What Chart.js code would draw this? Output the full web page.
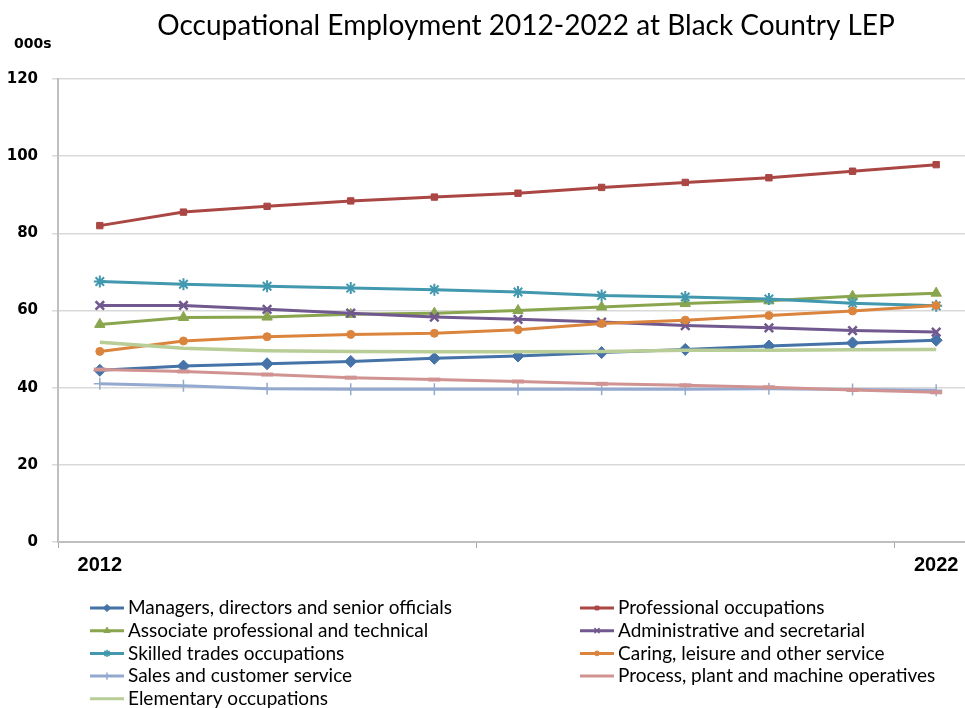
<!DOCTYPE html>
<html>
<head>
<meta charset="utf-8">
<script src="https://cdn.jsdelivr.net/npm/chart.js@4/dist/chart.umd.min.js"></script>
<style>
  html, body { margin: 0; padding: 0; background: #fff; overflow: hidden; }
  #wrap { width: 1058px; height: 708px; }
</style>
</head>
<body>
<div id="wrap"><canvas id="myChart" width="1058" height="708"></canvas></div>
<script>
// values in thousands
const years = ['2012', '2013', '2014', '2015', '2016', '2017', '2018', '2019', '2020', '2021', '2022'];
const shownYears = ['2012', '2022'];
const yTicks = [0, 20, 40, 60, 80, 100, 120];

const managers = [44.5, 45.6, 46.2, 46.8, 47.6, 48.2, 49.1, 49.9, 50.8, 51.6, 52.3];
const professional = [82.0, 85.5, 87.0, 88.4, 89.4, 90.4, 91.9, 93.2, 94.4, 96.1, 97.8];
const associate = [56.4, 58.2, 58.3, 59.0, 59.3, 60.0, 60.9, 61.8, 62.5, 63.7, 64.5];
const administrative = [61.3, 61.3, 60.3, 59.3, 58.3, 57.7, 57.0, 56.1, 55.5, 54.8, 54.4];
const skilled = [67.5, 66.8, 66.3, 65.8, 65.4, 64.8, 63.9, 63.5, 63.0, 61.9, 61.2];
const caring = [49.4, 52.1, 53.2, 53.8, 54.1, 55.0, 56.6, 57.5, 58.7, 59.9, 61.3];
const sales = [41.0, 40.5, 39.7, 39.6, 39.6, 39.6, 39.6, 39.6, 39.7, 39.5, 39.3];
const process = [44.7, 44.2, 43.4, 42.6, 42.1, 41.6, 41.0, 40.6, 40.1, 39.4, 38.8];
const elementary = [51.8, 50.2, 49.6, 49.4, 49.3, 49.3, 49.4, 49.7, 49.7, 49.8, 49.9];

const series = [
  { label: 'Managers, directors and senior officials', data: managers, color: '#4572A7', style: 'rectRot', r: 6, bw: 1 },
  { label: 'Professional occupations', data: professional, color: '#AA4643', style: 'rect', r: 4.5, bw: 1 },
  { label: 'Associate professional and technical', data: associate, color: '#89A54E', style: 'triangle', r: 6, bw: 1 },
  { label: 'Administrative and secretarial', data: administrative, color: '#71588F', style: 'crossRot', r: 6, bw: 2.5 },
  { label: 'Skilled trades occupations', data: skilled, color: '#4198AF', style: 'star', r: 6, bw: 2 },
  { label: 'Caring, leisure and other service', data: caring, color: '#DB843D', style: 'circle', r: 4, bw: 1 },
  { label: 'Sales and customer service', data: sales, color: '#93A9CF', style: 'cross', r: 6, bw: 1.5 },
  { label: 'Process, plant and machine operatives', data: process, color: '#D19392', style: 'line', r: 6, bw: 4 },
  { label: 'Elementary occupations', data: elementary, color: '#B9CD96', style: false, r: 0, bw: 0 }
];

const chartTitle = 'Occupational Employment 2012-2022 at Black Country LEP';

// title, the "000s" unit label and a two column legend like the excel one
const extras = {
  id: 'extras',
  afterDraw(chart) {
    const ctx = chart.ctx;
    ctx.save();
    ctx.fillStyle = '#000';
    ctx.font = '28px Lato';
    ctx.textAlign = 'center';
    ctx.textBaseline = 'alphabetic';
    ctx.fillText(chartTitle, 526, 35);

    ctx.font = 'bold 14px "DejaVu Sans"';
    ctx.textAlign = 'left';
    ctx.textBaseline = 'middle';
    ctx.fillText('000s', 14, 44);

    ctx.font = '19px Lato';
    chart.data.datasets.forEach((ds, i) => {
      const col = i % 2, row = Math.floor(i / 2);
      const x0 = col ? 580 : 90;
      const y = 608 + row * 22.7;
      ctx.strokeStyle = ds.borderColor;
      ctx.lineWidth = 3;
      ctx.beginPath();
      ctx.moveTo(x0, y);
      ctx.lineTo(x0 + 34, y);
      ctx.stroke();
      if (ds.pointStyle && Chart.helpers && Chart.helpers.drawPoint) {
        ctx.fillStyle = ds.borderColor;
        ctx.strokeStyle = ds.borderColor;
        ctx.lineWidth = Math.min(ds.pointBorderWidth, 1.5);
        Chart.helpers.drawPoint(ctx, { pointStyle: ds.pointStyle, radius: ds.pointRadius * 0.6, rotation: 0, borderWidth: ds.pointBorderWidth }, x0 + 17, y);
      }
      ctx.fillStyle = '#000';
      ctx.fillText(ds.label, x0 + 38, y);
    });
    ctx.restore();
  }
};

window.addEventListener('load', function () {
  const ctx = document.getElementById('myChart');
  const myChart = new Chart(ctx, {
    type: 'line',
    data: {
      labels: years,
      datasets: series.map((s, i) => ({
        label: s.label,
        data: s.data,
        borderColor: s.color,
        backgroundColor: s.color,
        borderWidth: i === 8 ? 3.5 : 3,
        tension: 0,
        fill: false,
        pointStyle: s.style,
        pointRadius: s.r,
        pointHoverRadius: s.r,
        pointBorderWidth: s.bw,
        pointBackgroundColor: s.color,
        pointBorderColor: s.color,
        order: 10 - i
      }))
    },
    options: {
      responsive: false,
      animation: false,
      devicePixelRatio: 1,
      layout: { padding: { left: 0, right: 80, top: 79, bottom: 126 } },
      plugins: {
        legend: { display: false },
        tooltip: { enabled: false },
        title: { display: false }
      },
      scales: {
        x: {
          offset: true,
          afterFit: s => { s.height = 40; },
          grid: {
            offset: true,
            drawOnChartArea: false,
            tickLength: 6,
            lineWidth: 1,
            color: c => (c.index % 5 === 0 ? '#a6a6a6' : 'rgba(0,0,0,0)')
          },
          border: { color: '#bfbfbf', width: 2 },
          ticks: {
            autoSkip: false,
            maxRotation: 0,
            padding: 5,
            color: '#000',
            font: { family: '"Liberation Sans"', size: 20, weight: 'bold' },
            callback: function (v) {
              const lab = this.getLabelForValue(v);
              return shownYears.includes(lab) ? lab : '';
            }
          }
        },
        y: {
          min: yTicks[0],
          max: yTicks[yTicks.length - 1],
          afterFit: s => { s.width = 58; },
          afterBuildTicks: s => { s.ticks = yTicks.map(v => ({ value: v })); },
          grid: { color: '#d9d9d9', lineWidth: 1.5, tickLength: 6 },
          border: { color: '#bfbfbf', width: 2 },
          ticks: {
            padding: 14,
            color: '#000',
            font: { family: '"DejaVu Sans"', size: 15, weight: 'bold' }
          }
        }
      }
    },
    plugins: [extras]
  });
});
</script>
</body>
</html>
